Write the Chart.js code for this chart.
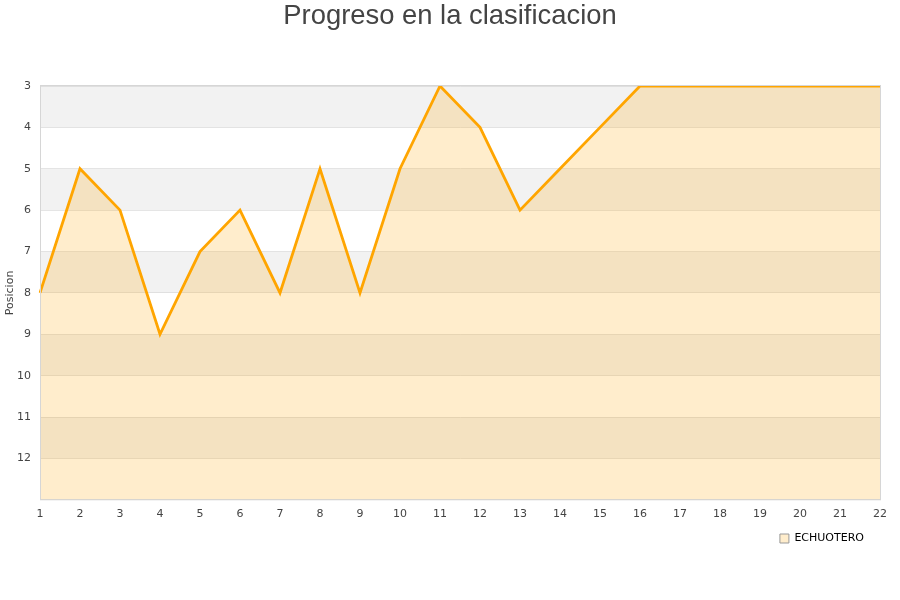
<!DOCTYPE html>
<html>

<head>
  <title>Progreso en la clasificacion</title>
  <script src="https://cdn.jsdelivr.net/npm/chart.js"></script>
  <style>
    body { margin: 0; background: #fff; }
    #wrap { width: 900px; height: 600px; }
  </style>
</head>

<body>
  <div id="wrap"><canvas id="myChart" width="900" height="600"></canvas></div>
  <script>
    var jornadas = ['1', '2', '3', '4', '5', '6', '7', '8', '9', '10', '11', '12', '13', '14', '15', '16', '17', '18', '19', '20', '21', '22'];
    var posiciones = [8, 5, 6, 9, 7, 6, 8, 5, 8, 5, 3, 4, 6, 5, 4, 3, 3, 3, 3, 3, 3, 3];
    var equipo = 'ECHUOTERO';
    var titulo = 'Progreso en la clasificacion';

    // alternate gray / white bands behind the area, a frame round the plot, and the title
    var bandas = {
      id: 'bandas',
      afterLayout: function (chart) {
        // legend sits a little left of the plot's right edge and closer to the axis
        chart.legend.left -= 6;
        chart.legend.right -= 6;
        chart.legend.top -= 6;
        chart.legend.bottom -= 6;
      },
      beforeDraw: function (chart) {
        var ctx = chart.ctx, area = chart.chartArea, y = chart.scales.y;
        ctx.save();
        for (var v = y.min; v < y.max; v += 2) {
          var a = y.getPixelForValue(v), b = y.getPixelForValue(v + 1);
          ctx.fillStyle = '#f2f2f2';
          ctx.fillRect(area.left, Math.min(a, b), area.right - area.left, Math.abs(b - a));
        }
        ctx.restore();
      },
      afterDraw: function (chart) {
        var ctx = chart.ctx, area = chart.chartArea;
        ctx.save();
        ctx.strokeStyle = '#d6d6d6';
        ctx.lineWidth = 1;
        ctx.strokeRect(area.left + 0.5, area.top - 0.5, area.right - area.left, area.bottom - area.top + 0.5);
        ctx.fillStyle = '#444';
        ctx.font = '27.4px "Liberation Sans"';
        ctx.textAlign = 'center';
        ctx.textBaseline = 'middle';
        ctx.fillText(titulo, chart.width / 2, 16);
        ctx.restore();
      }
    };

    var ctx = document.getElementById('myChart').getContext('2d');
    var myChart = new Chart(ctx, {
      type: 'line',
      data: {
        labels: jornadas,
        datasets: [{
          label: equipo,
          data: posiciones,
          borderColor: '#ffa500',
          backgroundColor: 'rgba(255, 165, 0, 0.2)',
          borderWidth: 2.8,
          pointRadius: 0,
          tension: 0,
          fill: 'start'
        }]
      },
      options: {
        responsive: false,
        animation: false,
        layout: { padding: { left: 0, right: 20, top: 86, bottom: 40 } },
        plugins: {
          title: { display: false },
          legend: {
            position: 'bottom',
            align: 'end',
            labels: {
              color: '#000',
              font: { family: 'DejaVu Sans', size: 11 },
              boxWidth: 9,
              boxHeight: 9,
              padding: 10,
              generateLabels: function (chart) {
                return [{
                  text: equipo,
                  fillStyle: '#ffedcc',
                  strokeStyle: '#999',
                  lineWidth: 1,
                  datasetIndex: 0
                }];
              }
            }
          },
          tooltip: { enabled: false }
        },
        scales: {
          x: {
            grid: { display: false, drawTicks: false },
            border: { color: '#d6d6d6' },
            ticks: {
              color: '#444',
              font: { family: 'DejaVu Sans', size: 11 },
              maxRotation: 0,
              autoSkip: false,
              padding: 8
            }
          },
          y: {
            reverse: true,
            min: 3,
            max: 13,
            afterFit: function (s) { s.width = 40; },
            grid: { color: 'rgba(200, 200, 200, 0.45)', drawTicks: false },
            border: { color: '#d6d6d6' },
            title: {
              display: true,
              text: 'Posicion',
              color: '#444',
              font: { family: 'DejaVu Sans', size: 11 },
              padding: { top: 4, bottom: 0 }
            },
            ticks: {
              stepSize: 1,
              color: '#444',
              font: { family: 'DejaVu Sans', size: 11 },
              padding: 9,
              callback: function (v) { return v === 13 ? '' : v; }
            }
          }
        }
      },
      plugins: [bandas]
    });
  </script>
</body>

</html>
